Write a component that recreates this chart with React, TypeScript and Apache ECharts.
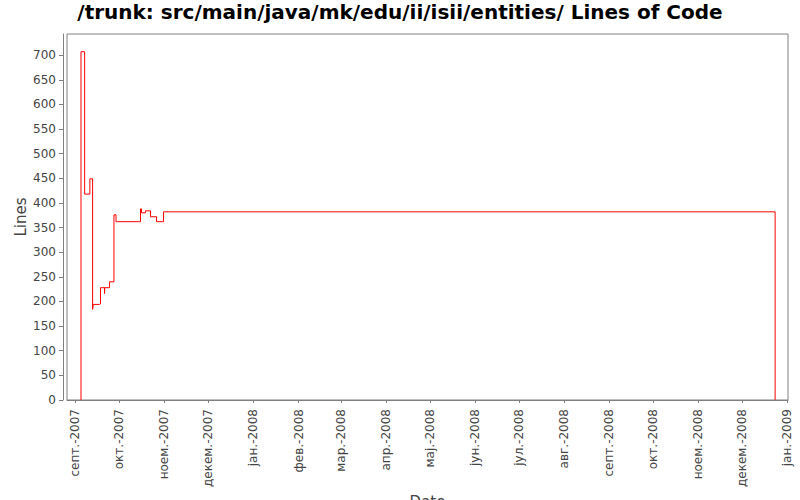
import React, { useEffect, useRef } from 'react';
import * as echarts from 'echarts';

// commit times (UTC) and line counts after each commit
const commitTimes = [
  '2007-09-04T22:00Z', '2007-09-04T22:00Z', '2007-09-07T10:00Z', '2007-09-11T00:00Z',
  '2007-09-12T21:00Z', '2007-09-13T08:00Z', '2007-09-17T10:00Z', '2007-09-18T07:00Z',
  '2007-09-21T02:00Z', '2007-09-21T04:00Z', '2007-09-24T12:00Z', '2007-09-27T12:00Z',
  '2007-09-28T22:00Z', '2007-10-15T17:00Z', '2007-10-16T10:00Z', '2007-10-19T02:00Z',
  '2007-10-22T14:00Z', '2007-10-26T17:00Z', '2007-10-31T12:00Z', '2008-12-23T14:00Z',
];
const lineCounts = [
  0, 707, 418, 449,
  184, 194, 195, 228,
  216, 228, 240, 376,
  362, 388, 380, 384,
  372, 362, 382, 0,
];

const monthDates = [
  '2007-09-01', '2007-10-01', '2007-11-01', '2007-12-01', '2008-01-01', '2008-02-01',
  '2008-03-01', '2008-04-01', '2008-05-01', '2008-06-01', '2008-07-01', '2008-08-01',
  '2008-09-01', '2008-10-01', '2008-11-01', '2008-12-01', '2009-01-01',
];
const monthLabels = [
  'септ.-2007', 'окт.-2007', 'ноем.-2007', 'декем.-2007', 'јан.-2008', 'фев.-2008',
  'мар.-2008', 'апр.-2008', 'мај.-2008', 'јун.-2008', 'јул.-2008', 'авг.-2008',
  'септ.-2008', 'окт.-2008', 'ноем.-2008', 'декем.-2008', 'јан.-2009',
];
const yTicks = [0, 50, 100, 150, 200, 250, 300, 350, 400, 450, 500, 550, 600, 650, 700];

const xStart = '2007-08-26T08:00Z';
const xEnd = '2009-01-01T10:00Z';
const yMax = 743;

const font = 'DejaVu Sans';

export default function App() {
  const chartRef = useRef<HTMLDivElement>(null);

  useEffect(() => {
    if (!chartRef.current) return;
    const chart = echarts.init(chartRef.current, null, { renderer: 'svg' });
    const monthTs = monthDates.map((d) => Date.parse(d));
    const data = commitTimes.map((t, i) => [Date.parse(t), lineCounts[i]]);

    chart.setOption({
      animation: false,
      backgroundColor: '#ffffff',
      textStyle: { fontFamily: font },
      title: {
        text: '/trunk: src/main/java/mk/edu/ii/isii/entities/ Lines of Code',
        left: 'center',
        top: 2,
        padding: 0,
        textStyle: { fontFamily: font, fontSize: 20, fontWeight: 'bold', color: '#000' },
      },
      grid: {
        left: 67,
        right: 12,
        top: 34,
        bottom: 100,
        outerBoundsMode: 'none',
        containLabel: false,
        show: true,
        borderColor: '#808080',
        borderWidth: 1,
        backgroundColor: '#ffffff',
      },
      xAxis: {
        type: 'value',
        min: Date.parse(xStart),
        max: Date.parse(xEnd),
        offset: 4,
        name: 'Date',
        nameLocation: 'middle',
        nameGap: 88,
        nameTextStyle: { fontFamily: font, fontSize: 15, color: '#444' },
        axisLine: { show: true, lineStyle: { color: '#808080', width: 1 } },
        axisTick: { show: true, length: 3, customValues: monthTs, lineStyle: { color: '#808080' } },
        axisLabel: {
          customValues: monthTs,
          rotate: 90,
          margin: 5,
          fontFamily: font,
          fontSize: 12,
          color: '#444',
          formatter: (v: number) => monthLabels[monthTs.indexOf(v)] ?? '',
        },
        splitLine: { show: false },
      },
      yAxis: {
        type: 'value',
        min: 0,
        max: yMax,
        offset: 4,
        name: 'Lines',
        nameLocation: 'middle',
        nameGap: 35,
        nameMoveOverlap: false,
        nameTextStyle: { fontFamily: font, fontSize: 15, color: '#444' },
        axisLine: { show: true, lineStyle: { color: '#808080', width: 1 } },
        axisTick: { show: true, length: 4, customValues: yTicks, lineStyle: { color: '#808080' } },
        axisLabel: { customValues: yTicks, margin: 7, fontFamily: font, fontSize: 12, color: '#444' },
        splitLine: { show: false },
      },
      series: [
        {
          type: 'line',
          step: 'end',
          data,
          showSymbol: false,
          lineStyle: { color: '#ff0000', width: 1 },
          itemStyle: { color: '#ff0000' },
        },
      ],
    });

    return () => {
      chart.dispose();
    };
  }, []);

  return (
    <div
      ref={chartRef}
      style={{ position: 'fixed', left: 0, top: 0, width: '800px', height: '500px' }}
    ></div>
  );
}
